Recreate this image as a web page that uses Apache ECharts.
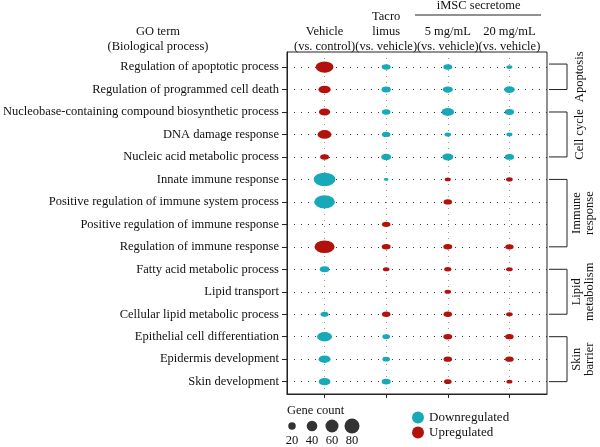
<!DOCTYPE html>
<html>
<head>
<meta charset="utf-8">
<script src="https://cdn.jsdelivr.net/npm/echarts@6/dist/echarts.min.js"></script>
<style>
  html, body { margin: 0; padding: 0; background: #fff; }
  #main { width: 600px; height: 447px; }
</style>
</head>
<body>
<div id="main"></div>
<script>
// GO terms, top to bottom
var terms = [
    'Regulation of apoptotic process',
    'Regulation of programmed cell death',
    'Nucleobase-containing compound biosynthetic process',
    'DNA damage response',
    'Nucleic acid metabolic process',
    'Innate immune response',
    'Positive regulation of immune system process',
    'Positive regulation of immune response',
    'Regulation of immune response',
    'Fatty acid metabolic process',
    'Lipid transport',
    'Cellular lipid metabolic process',
    'Epithelial cell differentiation',
    'Epidermis development',
    'Skin development'
];
// columns: Vehicle, Tacrolimus, 5 mg/mL, 20 mg/mL
var geneCount = [
    [44, 11, 11, 5],
    [21, 12, 14, 16],
    [18, 10, 22, 12],
    [27, 10, 6, 5],
    [11, 14, 17, 12],
    [65, 3, 5, 6],
    [60, null, 10, null],
    [null, 10, null, null],
    [56, 11, 11, 10],
    [13, 6, 7, 6],
    [null, null, 6, null],
    [9, 10, 10, 6],
    [31, 8, 11, 10],
    [20, 8, 10, 10],
    [19, 11, 8, 5]
];
// D = downregulated, U = upregulated
var direction = [
    ['U', 'D', 'D', 'D'],
    ['U', 'D', 'D', 'D'],
    ['U', 'D', 'D', 'D'],
    ['U', 'D', 'D', 'D'],
    ['U', 'D', 'D', 'D'],
    ['D', 'D', 'U', 'U'],
    ['D', '', 'U', ''],
    ['', 'U', '', ''],
    ['U', 'U', 'U', 'U'],
    ['D', 'U', 'U', 'U'],
    ['', '', 'U', ''],
    ['D', 'U', 'U', 'U'],
    ['D', 'D', 'U', 'U'],
    ['D', 'D', 'U', 'U'],
    ['D', 'D', 'U', 'U']
];
var groups = [
    {name: 'Apoptosis', from: 0, to: 1},
    {name: 'Cell cycle', from: 2, to: 4},
    {name: 'Immune\nresponse', from: 5, to: 8},
    {name: 'Lipid\nmetabolism', from: 9, to: 11},
    {name: 'Skin\nbarrier', from: 12, to: 14}
];
var sizeLegend = [20, 40, 60, 80];

var teal = '#18a9b8';
var red = '#b3120c';
var serif = '"Liberation Serif", "DejaVu Serif", serif';

var myChart = echarts.init(document.getElementById('main'));

function diam(c) {
    return 1.68 * Math.sqrt(c);
}

var down = [], up = [];
geneCount.forEach(function (row, r) {
    row.forEach(function (c, k) {
        if (c === null) return;
        if (direction[r][k] === 'D') down.push([k + 1, r, c]);
        else up.push([k + 1, r, c]);
    });
});

var rowIdx = terms.map(function (t, i) { return i; });

function legendBox(name, top) {
    return {
        data: [name],
        left: 412,
        top: top,
        itemWidth: 12,
        itemHeight: 12,
        icon: 'circle',
        padding: 0,
        textStyle: {fontFamily: serif, fontSize: 13, color: '#111'}
    };
}

var option = {
    animation: false,
    textStyle: {fontFamily: serif},
    grid: [
        {left: 285, top: 52, width: 262, height: 342, show: true, borderColor: '#222', borderWidth: 1},
        {left: 282, top: 422, width: 80, height: 12}
    ],
    legend: [legendBox('Downregulated', 411), legendBox('Upregulated', 426)],
    xAxis: [
        {
            type: 'value', gridIndex: 0, min: 0.39, max: 4.61,
            axisLine: {onZero: false, lineStyle: {color: '#222'}},
            axisTick: {customValues: [1, 2, 3, 4], length: 4, lineStyle: {color: '#222'}},
            axisLabel: {show: false},
            splitLine: {show: true, customValues: [1, 2, 3, 4], lineStyle: {color: '#999', type: [1, 5]}}
        },
        {
            type: 'category', gridIndex: 1, data: sizeLegend.map(String),
            axisLine: {show: false}, axisTick: {show: false},
            axisLabel: {fontFamily: serif, fontSize: 12.5, color: '#111', margin: 4}
        }
    ],
    yAxis: [
        {
            type: 'value', gridIndex: 0, inverse: true, min: -0.67, max: 14.55,
            axisLine: {onZero: false, lineStyle: {color: '#222'}},
            axisTick: {customValues: rowIdx, length: 5, lineStyle: {color: '#222'}},
            axisLabel: {
                customValues: rowIdx, margin: 8,
                fontFamily: serif, fontSize: 12.5, color: '#111',
                formatter: function (v) { return terms[Math.round(v)]; }
            },
            splitLine: {show: true, customValues: rowIdx, lineStyle: {color: '#333', type: [1, 6]}}
        },
        {type: 'value', gridIndex: 1, show: false, min: -1, max: 1}
    ],
    series: [
        {
            name: 'Downregulated', type: 'scatter', data: down, color: teal,
            symbolSize: function (v) { var d = diam(v[2]); return [d * 1.6, d]; },
            itemStyle: {opacity: 1}
        },
        {
            name: 'Upregulated', type: 'scatter', data: up, color: red,
            symbolSize: function (v) { var d = diam(v[2]); return [d * 1.6, d]; },
            itemStyle: {opacity: 1}
        },
        {
            name: 'Gene count', type: 'scatter', xAxisIndex: 1, yAxisIndex: 1,
            data: sizeLegend.map(function (c, i) { return [i, 0, c]; }),
            color: '#000',
            symbolSize: function (v) { return diam(v[2]); }
        }
    ]
};

myChart.setOption(option);

// header, brackets and legend title placed from the axis scales
var els = [];
function fnt(size) { return size + 'px ' + serif; }
function px(x, y) { return myChart.convertToPixel({gridIndex: 0}, [x, y]); }
function txt(x, y, s, size, rot) {
    var o = {type: 'text', x: x, y: y, style: {text: s, font: fnt(size || 12.5), fill: '#111', align: 'center', verticalAlign: 'middle', lineHeight: 13}};
    if (rot) o.rotation = rot;
    return o;
}
var colX = [1, 2, 3, 4].map(function (c) { return px(c, 0)[0]; });
els.push(txt(158, 32, 'GO term'));
els.push(txt(158, 47, '(Biological process)'));
els.push(txt(colX[0], 32, 'Vehicle'));
els.push(txt(colX[0], 47, '(vs. control)'));
els.push(txt(colX[1], 17, 'Tacro'));
els.push(txt(colX[1], 32, 'limus'));
els.push(txt(colX[1], 47, '(vs. vehicle)'));
els.push(txt(colX[2], 32, '5 mg/mL'));
els.push(txt(colX[2], 47, '(vs. vehicle)'));
els.push(txt(colX[3], 32, '20 mg/mL'));
els.push(txt(colX[3], 47, '(vs. vehicle)'));
els.push(txt((colX[2] + colX[3]) / 2, 6, 'iMSC secretome'));
els.push({type: 'line', shape: {x1: 415, y1: 15, x2: 541, y2: 15}, style: {stroke: '#222', lineWidth: 1}});

groups.forEach(function (g) {
    var y1 = px(1, g.from)[1] - (g.from === 0 ? 3 : 0);
    var y2 = px(1, g.to)[1];
    els.push({
        type: 'polyline',
        shape: {points: [[549, y1], [567, y1], [567, y2], [549, y2]]},
        style: {stroke: '#222', lineWidth: 1, fill: null}
    });
    var two = g.name.indexOf('\n') >= 0;
    els.push(txt(two ? 583 : 580, (y1 + y2) / 2, g.name, 12.5, Math.PI / 2));
});

els.push({type: 'text', x: 287, y: 411, style: {text: 'Gene count', font: fnt(12.5), fill: '#111', align: 'left', verticalAlign: 'middle'}});

myChart.setOption({graphic: els});
</script>
</body>
</html>
